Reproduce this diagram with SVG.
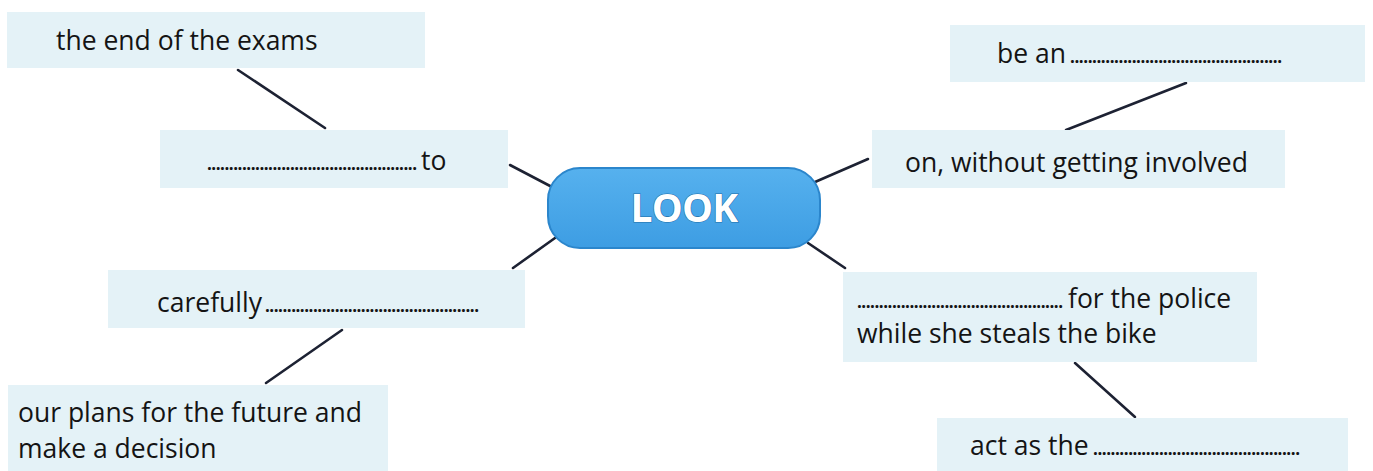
<svg xmlns="http://www.w3.org/2000/svg" width="1373" height="471" viewBox="0 0 1373 471">
  <style>
    .box { fill: #e4f2f7; }
    .t { font-family: "Open Sans", "Noto Sans", sans-serif; font-size: 26.5px; font-weight: 500; fill: #141414; }
    .dots { font-family: "Open Sans", "Noto Sans", sans-serif; font-size: 17px; font-weight: 700; fill: #141414; }
    .conn line { stroke: #1d2233; stroke-width: 2.6; stroke-linecap: round; }
    .look { font-family: "Open Sans", "Noto Sans", sans-serif; font-size: 39px; font-weight: 700; fill: #ffffff; stroke: #1f6eaa; stroke-width: 1.2; paint-order: stroke; letter-spacing: -0.8px; }
  </style>
  <defs>
    <linearGradient id="pill" x1="0" y1="0" x2="0" y2="1">
      <stop offset="0" stop-color="#56b1ee"/>
      <stop offset="1" stop-color="#3d9de3"/>
    </linearGradient>
  </defs>
  <rect width="1373" height="471" fill="#ffffff"/>

  <g id="connectors" class="conn">
    <line x1="238" y1="70" x2="325" y2="128"/>
    <line x1="510" y1="165" x2="552" y2="187"/>
    <line x1="513" y1="268" x2="555" y2="238"/>
    <line x1="342" y1="330" x2="266" y2="383"/>
    <line x1="815" y1="182" x2="868" y2="159"/>
    <line x1="1066" y1="130" x2="1186" y2="83"/>
    <line x1="808" y1="243" x2="845" y2="268"/>
    <line x1="1075" y1="363" x2="1135" y2="417"/>
  </g>

  <g id="node-look">
    <rect x="548" y="168" width="272" height="80" rx="32" fill="url(#pill)" stroke="#2b86cc" stroke-width="2"/>
    <text class="look" x="684" y="222" text-anchor="middle">LOOK</text>
  </g>

  <g id="node-exams">
    <rect class="box" x="7" y="12" width="418" height="56"/>
    <text class="t" x="56" y="50">the end of the exams</text>
  </g>

  <g id="node-to">
    <rect class="box" x="160" y="130" width="348" height="58"/>
    <text class="dots" x="207" y="170" textLength="210" lengthAdjust="spacing">................................................</text>
    <text class="t" x="421" y="170">to</text>
  </g>

  <g id="node-carefully">
    <rect class="box" x="108" y="270" width="417" height="58"/>
    <text class="t" x="157" y="312">carefully</text>
    <text class="dots" x="265" y="312" textLength="214" lengthAdjust="spacing">.................................................</text>
  </g>

  <g id="node-plans">
    <rect class="box" x="8" y="385" width="380" height="90"/>
    <text class="t" x="18" y="422">our plans for the future and</text>
    <text class="t" x="18" y="458">make a decision</text>
  </g>

  <g id="node-be-an">
    <rect class="box" x="950" y="25" width="415" height="57"/>
    <text class="t" x="997" y="63">be an</text>
    <text class="dots" x="1070" y="63" textLength="212" lengthAdjust="spacing">................................................</text>
  </g>

  <g id="node-on">
    <rect class="box" x="872" y="130" width="413" height="58"/>
    <text class="t" x="905" y="172">on, without getting involved</text>
  </g>

  <g id="node-police">
    <rect class="box" x="843" y="272" width="414" height="90"/>
    <text class="dots" x="857" y="308" textLength="206" lengthAdjust="spacing">...............................................</text>
    <text class="t" x="1068" y="308">for the police</text>
    <text class="t" x="857" y="343">while she steals the bike</text>
  </g>

  <g id="node-act">
    <rect class="box" x="937" y="418" width="411" height="57"/>
    <text class="t" x="970" y="455">act as the</text>
    <text class="dots" x="1093" y="455" textLength="207" lengthAdjust="spacing">...............................................</text>
  </g>
</svg>
